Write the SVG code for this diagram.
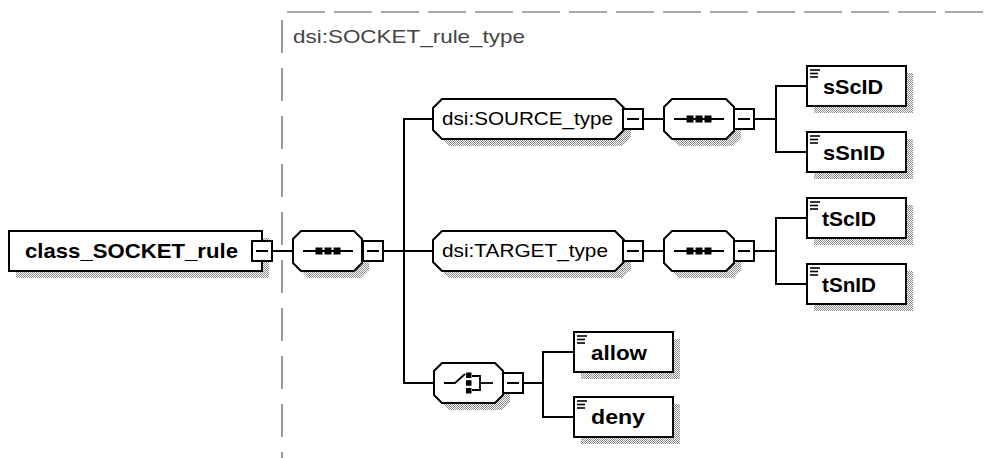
<svg xmlns="http://www.w3.org/2000/svg" width="987" height="458" viewBox="0 0 987 458">
  <defs>
    <!-- dithered grey used for drop shadows -->
    <pattern id="dither" width="2" height="2" patternUnits="userSpaceOnUse">
      <rect x="0" y="0" width="1" height="1" fill="#8a8a8a"/>
      <rect x="1" y="1" width="1" height="1" fill="#8a8a8a"/>
    </pattern>
    <!-- collapse (minus) button -->
    <g id="minus">
      <rect x="0" y="0" width="20" height="20" fill="#fff" stroke="#000" stroke-width="2"/>
      <line x1="4" y1="10" x2="16" y2="10" stroke="#000" stroke-width="1.2"/>
    </g>
    <!-- element glyph in the corner of element boxes -->
    <g id="elemIcon" stroke="#000" stroke-width="1.6">
      <line x1="3" y1="4" x2="13" y2="4"/>
      <line x1="3" y1="7.5" x2="11" y2="7.5"/>
      <line x1="3" y1="11" x2="11" y2="11"/>
    </g>
    <!-- sequence compositor glyph -->
    <g id="seqIcon">
      <line x1="-25" y1="0" x2="25" y2="0" stroke="#000" stroke-width="2"/>
      <rect x="-12.5" y="-3.5" width="7" height="7" fill="#000"/>
      <rect x="-3.5" y="-3.5" width="7" height="7" fill="#000"/>
      <rect x="5.5" y="-3.5" width="7" height="7" fill="#000"/>
    </g>
  </defs>
  <style>
    .box { fill: #fff; stroke: #000; stroke-width: 2; }
    .shadow { fill: url(#dither); stroke: none; }
    .conn { stroke: #000; stroke-width: 2; fill: none; }
    .frame { stroke: #555; stroke-width: 1.2; fill: none; }
    .bold { font-family: "Liberation Sans", Arial, sans-serif; font-weight: bold; font-size: 20.5px; fill: #000; }
    .reg { font-family: "Liberation Sans", Arial, sans-serif; font-size: 19px; fill: #000; }
    .title { font-family: "Liberation Sans", Arial, sans-serif; font-size: 19px; fill: #444; }
  </style>

  <rect width="987" height="458" fill="#fff"/>

  <!-- complex type frame -->
  <g id="typeFrame">
    <line class="frame" x1="287" y1="12" x2="987" y2="12" stroke-dasharray="38 9"/>
    <line class="frame" x1="282" y1="20" x2="282" y2="458" stroke-dasharray="33 15" stroke="#333"/>
    <text class="title" x="293" y="43" textLength="232" lengthAdjust="spacingAndGlyphs">dsi:SOCKET_rule_type</text>
  </g>

  <!-- connectors -->
  <g id="connectors" shape-rendering="crispEdges">
    <line class="conn" x1="272" y1="251" x2="293" y2="251"/>
    <line class="conn" x1="383" y1="251" x2="404" y2="251"/>
    <line class="conn" x1="404" y1="119" x2="404" y2="383"/>
    <line class="conn" x1="403" y1="119" x2="433" y2="119"/>
    <line class="conn" x1="404" y1="251" x2="433" y2="251"/>
    <line class="conn" x1="403" y1="383" x2="434" y2="383"/>
    <!-- source branch -->
    <line class="conn" x1="643" y1="119" x2="664" y2="119"/>
    <line class="conn" x1="754" y1="119" x2="776" y2="119"/>
    <line class="conn" x1="776" y1="86" x2="776" y2="152"/>
    <line class="conn" x1="775" y1="86" x2="807" y2="86"/>
    <line class="conn" x1="775" y1="152" x2="807" y2="152"/>
    <!-- target branch -->
    <line class="conn" x1="643" y1="251" x2="664" y2="251"/>
    <line class="conn" x1="754" y1="251" x2="776" y2="251"/>
    <line class="conn" x1="776" y1="218" x2="776" y2="284"/>
    <line class="conn" x1="775" y1="218" x2="807" y2="218"/>
    <line class="conn" x1="775" y1="284" x2="807" y2="284"/>
    <!-- choice branch -->
    <line class="conn" x1="523" y1="383" x2="543" y2="383"/>
    <line class="conn" x1="543" y1="352" x2="543" y2="417"/>
    <line class="conn" x1="542" y1="352" x2="574" y2="352"/>
    <line class="conn" x1="542" y1="417" x2="574" y2="417"/>
  </g>

  <!-- root element -->
  <g id="class_SOCKET_rule">
    <rect class="shadow" x="16" y="238" width="253" height="40"/>
    <rect class="box" x="9" y="231" width="253" height="40" shape-rendering="crispEdges"/>
    <text class="bold" x="25" y="258" textLength="213" lengthAdjust="spacingAndGlyphs">class_SOCKET_rule</text>
    <use href="#minus" x="252" y="241" shape-rendering="crispEdges"/>
  </g>

  <!-- top-level sequence -->
  <g id="sequence_main">
    <path class="shadow" d="M308,238 H361 L369,246 V270 L361,278 H308 L300,270 V246 Z"/>
    <path class="box" d="M301,231 H354 L362,239 V263 L354,271 H301 L293,263 V239 Z"/>
    <use href="#seqIcon" x="328" y="251"/>
    <use href="#minus" x="363" y="241" shape-rendering="crispEdges"/>
  </g>

  <!-- SOURCE -->
  <g id="dsi_SOURCE_type">
    <path class="shadow" d="M449,106 H622 L631,115 V137 L622,146 H449 L440,137 V115 Z"/>
    <path class="box" d="M442,99 H615 L624,108 V130 L615,139 H442 L433,130 V108 Z"/>
    <text class="reg" x="442" y="125" textLength="171" lengthAdjust="spacingAndGlyphs">dsi:SOURCE_type</text>
    <use href="#minus" x="623" y="109" shape-rendering="crispEdges"/>
  </g>
  <g id="sequence_source">
    <path class="shadow" d="M679,106 H733 L741,114 V138 L733,146 H679 L671,138 V114 Z"/>
    <path class="box" d="M672,99 H726 L734,107 V131 L726,139 H672 L664,131 V107 Z"/>
    <use href="#seqIcon" x="699" y="119"/>
    <use href="#minus" x="734" y="109" shape-rendering="crispEdges"/>
  </g>
  <g id="sScID">
    <rect class="shadow" x="814" y="73" width="99" height="40"/>
    <rect class="box" x="807" y="66" width="99" height="40" shape-rendering="crispEdges"/>
    <use href="#elemIcon" x="807" y="66"/>
    <text class="bold" x="823" y="94" textLength="60" lengthAdjust="spacingAndGlyphs">sScID</text>
  </g>
  <g id="sSnID">
    <rect class="shadow" x="814" y="139" width="99" height="40"/>
    <rect class="box" x="807" y="132" width="99" height="40" shape-rendering="crispEdges"/>
    <use href="#elemIcon" x="807" y="132"/>
    <text class="bold" x="823" y="160" textLength="62" lengthAdjust="spacingAndGlyphs">sSnID</text>
  </g>

  <!-- TARGET -->
  <g id="dsi_TARGET_type">
    <path class="shadow" d="M449,238 H622 L631,247 V269 L622,278 H449 L440,269 V247 Z"/>
    <path class="box" d="M442,231 H615 L624,240 V262 L615,271 H442 L433,262 V240 Z"/>
    <text class="reg" x="442" y="257" textLength="166" lengthAdjust="spacingAndGlyphs">dsi:TARGET_type</text>
    <use href="#minus" x="623" y="241" shape-rendering="crispEdges"/>
  </g>
  <g id="sequence_target">
    <path class="shadow" d="M679,238 H733 L741,246 V270 L733,278 H679 L671,270 V246 Z"/>
    <path class="box" d="M672,231 H726 L734,239 V263 L726,271 H672 L664,263 V239 Z"/>
    <use href="#seqIcon" x="699" y="251"/>
    <use href="#minus" x="734" y="241" shape-rendering="crispEdges"/>
  </g>
  <g id="tScID">
    <rect class="shadow" x="814" y="205" width="99" height="40"/>
    <rect class="box" x="807" y="198" width="99" height="40" shape-rendering="crispEdges"/>
    <use href="#elemIcon" x="807" y="198"/>
    <text class="bold" x="822" y="226" textLength="54" lengthAdjust="spacingAndGlyphs">tScID</text>
  </g>
  <g id="tSnID">
    <rect class="shadow" x="814" y="271" width="99" height="40"/>
    <rect class="box" x="807" y="264" width="99" height="40" shape-rendering="crispEdges"/>
    <use href="#elemIcon" x="807" y="264"/>
    <text class="bold" x="822" y="292" textLength="54" lengthAdjust="spacingAndGlyphs">tSnID</text>
  </g>

  <!-- choice -->
  <g id="choice">
    <path class="shadow" d="M449,370 H502 L510,378 V402 L502,410 H449 L441,402 V378 Z"/>
    <path class="box" d="M442,363 H495 L503,371 V395 L495,403 H442 L434,395 V371 Z"/>
    <g stroke="#000" stroke-width="1.8" fill="none">
      <polyline points="444,383 455,383 465,374"/>
      <polyline points="472,376 480,376 480,390 472,390"/>
      <line x1="480" y1="383" x2="493" y2="383"/>
    </g>
    <rect x="466" y="372.5" width="5.5" height="5.5" fill="#000"/>
    <rect x="466" y="380.25" width="5.5" height="5.5" fill="#000"/>
    <rect x="466" y="388" width="5.5" height="5.5" fill="#000"/>
    <use href="#minus" x="503" y="373" shape-rendering="crispEdges"/>
  </g>
  <g id="allow">
    <rect class="shadow" x="581" y="339" width="99" height="40"/>
    <rect class="box" x="574" y="332" width="99" height="40" shape-rendering="crispEdges"/>
    <use href="#elemIcon" x="574" y="332"/>
    <text class="bold" x="591" y="360" textLength="56" lengthAdjust="spacingAndGlyphs">allow</text>
  </g>
  <g id="deny">
    <rect class="shadow" x="581" y="404" width="99" height="40"/>
    <rect class="box" x="574" y="397" width="99" height="40" shape-rendering="crispEdges"/>
    <use href="#elemIcon" x="574" y="397"/>
    <text class="bold" x="591" y="424" textLength="54" lengthAdjust="spacingAndGlyphs">deny</text>
  </g>
</svg>
